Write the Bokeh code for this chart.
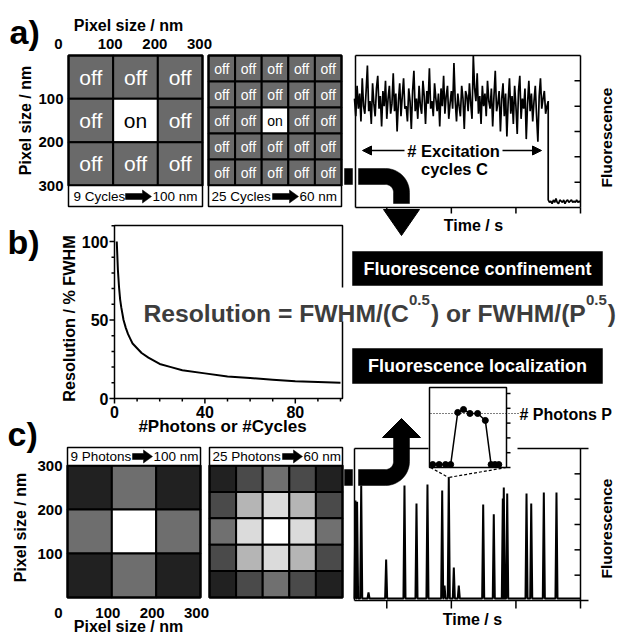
import numpy as np
from bokeh.plotting import figure
from bokeh.models import Range1d, Arrow, NormalHead
from bokeh.core.properties import value
from bokeh.embed import file_html
from bokeh.resources import INLINE

# ---------------- chart values ----------------
pixel_ticks_nm = [0, 100, 200, 300]
pixel_tick_labels = ["0", "100", "200", "300"]

a_small_on = [[0, 0, 0], [0, 1, 0], [0, 0, 0]]
a_large_on = [[0, 0, 0, 0, 0], [0, 0, 0, 0, 0], [0, 0, 1, 0, 0],
              [0, 0, 0, 0, 0], [0, 0, 0, 0, 0]]
a_small_caption = ["9 Cycles", "100 nm"]
a_large_caption = ["25 Cycles", "60 nm"]

c_small_level = [[0.13, 0.43, 0.13], [0.43, 1.0, 0.43], [0.13, 0.43, 0.13]]
c_large_level = [[0.13, 0.29, 0.44, 0.29, 0.13],
                 [0.29, 0.71, 0.86, 0.71, 0.29],
                 [0.44, 0.86, 1.00, 0.86, 0.44],
                 [0.29, 0.71, 0.86, 0.71, 0.29],
                 [0.13, 0.29, 0.44, 0.29, 0.13]]
c_small_caption = ["9 Photons", "100 nm"]
c_large_caption = ["25 Photons", "60 nm"]

res_n = [1, 1.5, 2, 2.5, 3, 4, 5, 6, 7, 8, 10, 12, 15, 20, 25, 30, 40, 50, 60, 70, 80, 90, 100]
res_pct = [100, 82, 71, 63, 58, 50, 45, 41, 38, 35, 32, 29, 26, 22, 20, 18, 16, 14, 13, 12, 11, 10.5, 10]
res_xticks = [0, 40, 80]
res_yticks = [0, 50, 100]

trace_time_ticks = [50, 150, 250, 350]
trace_fluor_ticks = [1, 2, 3, 4, 5]
# panel a: fluorescence sampled every 2 s while the molecule is on (0-300 s)
a_on_signal = [4.3, 3.6, 4.8, 3.9, 4.5, 3.4, 5.1, 4.0, 3.7, 4.6, 5.6, 3.8, 4.2, 3.3, 4.9, 4.1, 3.6, 4.7, 5.2, 3.9,
               4.4, 3.2, 4.6, 4.0, 5.0, 3.5, 4.3, 4.8, 3.7, 4.1, 5.3, 3.8, 4.5, 3.0, 4.2, 4.9, 3.6, 4.4, 5.1, 3.9,
               4.0, 3.4, 4.7, 4.2, 3.1, 4.6, 5.4, 3.8, 4.3, 3.5, 4.8, 4.0, 3.7, 5.0, 4.4, 3.3, 4.6, 4.1, 5.5, 3.9,
               4.2, 3.6, 4.9, 4.3, 3.8, 4.5, 3.2, 4.7, 4.0, 5.2, 3.7, 4.4, 4.8, 3.5, 4.1, 4.6, 3.9, 5.7, 4.2, 3.4,
               4.5, 4.0, 3.6, 4.8, 4.3, 3.1, 4.6, 4.4, 3.8, 4.9, 4.1, 3.5, 6.0, 4.7, 4.2, 5.3, 3.7, 4.4, 3.3, 4.8,
               4.0, 4.5, 3.6, 5.0, 4.2, 3.9, 4.7, 3.2, 4.4, 5.4, 3.8, 4.1, 4.6, 3.0, 4.3, 4.9, 3.6, 4.5, 2.8, 4.2,
               5.1, 3.7, 4.4, 3.3, 4.8, 4.0, 2.9, 4.6, 5.2, 3.5, 4.3, 3.9, 4.7, 2.7, 4.1, 5.0, 3.8, 4.5, 3.4, 4.2,
               4.8, 3.6, 2.6, 4.4, 5.1, 3.9, 4.3, 4.6, 3.7, 4.0, 4.2]
# panel a: after bleaching (300-350 s, every 2 s)
a_off_signal = [0.3, 0.2, 0.25, 0.15, 0.3, 0.2, 0.35, 0.2, 0.15, 0.3, 0.25, 0.2, 0.3,
                0.15, 0.25, 0.3, 0.2, 0.25, 0.3, 0.2, 0.25, 0.2, 0.3, 0.2, 0.25, 0.2]
# panel c: photon bursts
c_burst_time = [1.5, 4, 10.4, 21.7, 49, 77.4, 96, 113, 135.8, 139.4, 146, 153.8, 161.5,
                199.3, 215.7, 229.7, 231.2, 236.5, 266.4, 273.7, 293.2, 312.8]
c_burst_height = [3.95, 3.9, 4.54, 0.32, 1.62, 4.54, 3.83, 4.58, 4.34, 0.59, 4.86, 1.30, 0.59,
                  3.79, 3.40, 4.03, 4.46, 4.22, 4.22, 3.83, 4.26, 4.26]
c_background = 0.08
inset_time = [0.5, 1.5, 2.5, 3.3, 4.4, 5.3, 6.3, 7.5, 8.7, 9.6, 10.2, 10.8]
inset_counts = [0.2, 0.2, 0.2, 0.2, 3.72, 3.92, 3.65, 3.65, 3.18, 0.2, 0.2, 0.2]
inset_photon_level = 3.65
inset_ticks = [0, 1, 2, 3, 4, 5]

# ---------------- canvas ----------------
FONT = "Liberation Sans"
X0, X1, Y0, Y1 = 0, 616, 0, 634          # reference pixels covered by the frame
p = figure(width=X1 - X0, height=Y1 - Y0, x_range=Range1d(X0, X1), y_range=Range1d(-Y1, -Y0),
           output_backend="svg", toolbar_location=None, min_border=0,
           x_axis_type=None, y_axis_type=None,
           background_fill_color="white", border_fill_color="white")
p.outline_line_color = None


def add_x(name, d0, d1, s0, s1):
    k = (d1 - d0) / (s1 - s0)
    p.extra_x_ranges[name] = Range1d(d0 - (s0 - X0) * k, d1 + (X1 - s1) * k)


def add_y(name, d0, d1, s0, s1):
    k = (d1 - d0) / (s0 - s1)
    p.extra_y_ranges[name] = Range1d(d0 + k * (s0 - Y1), d0 + k * (s0 - Y0))


def S(v):
    if isinstance(v, (list, tuple, np.ndarray)):
        return [-u for u in v]
    return -v


def lst(v, n):
    return list(v) if isinstance(v, (list, tuple, np.ndarray)) else [v] * n


def txt(x, y, s, size, bold=True, color="black", align="center", baseline="middle",
        angle=0.0, xr="default", yr="default", x_offset=0):
    n = max(len(v) if isinstance(v, (list, tuple, np.ndarray)) else 1 for v in (x, y, s))
    p.text(x=lst(x, n), y=lst(y, n), text=lst(s, n), text_font=value(FONT),
           text_font_size=value(f"{size}px"), text_font_style="bold" if bold else "normal",
           text_color=color, text_align=align, text_baseline=baseline, angle=angle,
           x_offset=x_offset, x_range_name=xr, y_range_name=yr)


def box(x0, y0, x1, y1, fill="white", line="black", lw=1.5):
    p.quad(left=x0, right=x1, top=-y0, bottom=-y1, fill_color=fill,
           line_color=line, line_width=lw)


def seg(x0, y0, x1, y1, xr="default", yr="default", lw=1.5, dash="solid"):
    n = max(len(v) if isinstance(v, (list, tuple, np.ndarray)) else 1 for v in (x0, y0, x1, y1))
    p.segment(x0=lst(x0, n), y0=lst(y0, n), x1=lst(x1, n), y1=lst(y1, n),
              x_range_name=xr, y_range_name=yr, line_color="black", line_width=lw, line_dash=dash)


def gray(v):
    g = int(round(v * 255))
    return f"#{g:02x}{g:02x}{g:02x}"


def fat_arrow(xa, xb, yc):
    p.patch(x=[xa, xb - 9, xb - 9, xb, xb - 9, xb - 9, xa],
            y=S([yc - 3, yc - 3, yc - 6.5, yc, yc + 6.5, yc + 3, yc + 3]),
            fill_color="black", line_color="black", line_width=0.5)


CW = {' ': 278, '=': 584, '/': 278, '(': 333, ')': 333, '.': 278, 'R': 722, 'e': 556, 's': 556,
      'o': 611, 'l': 278, 'u': 611, 't': 333, 'i': 278, 'n': 611, 'F': 611, 'W': 944, 'H': 722,
      'M': 833, 'C': 722, 'r': 389, 'P': 667, '0': 556, '5': 556}


def tw(s, size):
    return sum(CW.get(ch, 556) for ch in s) * size / 1000.0


def grid(xr, yr, cells, top_origin, on_labels=None, label_size=20):
    n = len(cells)
    cell = 300.0 / n
    xs, ys, cols, labs, lcols = [], [], [], [], []
    for i, row in enumerate(cells):
        for j, v in enumerate(row):
            xs.append((j + 0.5) * cell)
            ys.append((i + 0.5) * cell if top_origin else 300 - (i + 0.5) * cell)
            if on_labels:
                cols.append("white" if v else "#6a6a6a")
                labs.append("on" if v else "off")
                lcols.append("black" if v else "white")
            else:
                cols.append(gray(v))
    p.rect(x=xs, y=ys, width=cell, height=cell, x_range_name=xr, y_range_name=yr,
           fill_color=cols, line_color="black", line_width=2)
    if on_labels:
        p.text(x=xs, y=ys, text=labs, text_color=lcols, text_font=value(FONT),
               text_font_size=value(f"{label_size}px"), text_align="center",
               text_baseline="middle", x_range_name=xr, y_range_name=yr)


# ---------------- panel labels ----------------
txt(9, -31, "a)", 34, align="left")
txt(7, -241, "b)", 34, align="left")
txt(7, -433, "c)", 34, align="left")

# ---------------- panel a: confinement grids ----------------
add_x("ga1", 0, 300, 68, 202)
add_x("ga2", 0, 300, 208, 341)
add_y("gay", 0, 300, 55, 185)
grid("ga1", "gay", a_small_on, True, on_labels=True, label_size=21)
grid("ga2", "gay", a_large_on, True, on_labels=True, label_size=14)
box(68, 55, 202, 185, fill=None, lw=2)
box(208, 55, 341, 185, fill=None, lw=2)
box(68, 185, 202, 206)
box(208, 185, 341, 206)
txt(73, -196, a_small_caption[0], 13.5, bold=False, align="left")
fat_arrow(125, 151, 196)
txt(152, -196, a_small_caption[1], 13.5, bold=False, align="left")
txt(211, -196, a_large_caption[0], 13.5, bold=False, align="left")
fat_arrow(272, 298, 196)
txt(299, -196, a_large_caption[1], 13.5, bold=False, align="left")

txt(128, -25, "Pixel size / nm", 16)
txt(pixel_ticks_nm[1:], -43, pixel_tick_labels[1:], 15, xr="ga1", x_offset=-3)
txt(pixel_ticks_nm[0], -43, pixel_tick_labels[0], 15, xr="ga1", x_offset=-10)
txt(63, pixel_ticks_nm[1:], pixel_tick_labels[1:], 15, align="right", yr="gay")
txt(25, -120, "Pixel size / nm", 16, angle=np.pi / 2)

# ---------------- panel a: fluorescence trace ----------------
add_x("tx", 0, 350, 354, 580)
add_y("tay", 0, 6, 207, 55)
add_y("tcy", 0, 6, 600, 448)
a_t_on = np.arange(0, 301, 2)
a_t_off = np.arange(300, 351, 2)
p.line(list(a_t_on) + list(a_t_off), a_on_signal + a_off_signal, x_range_name="tx",
       y_range_name="tay", line_color="black", line_width=1.7)
seg(355, -55, 580, -55)
seg(355, -207, 580, -207)
seg(355, -55, 355, -207)
seg(580, -55, 580, -207)
seg(574, trace_fluor_ticks, 580, trace_fluor_ticks, yr="tay")
seg(trace_time_ticks, -207, trace_time_ticks, -213, xr="tx")
txt(453, -150, "# Excitation", 16.5)
txt(454, -168, "cycles C", 16.5)
for xs_, xe_ in ((404, 362), (502, 541)):
    p.add_layout(Arrow(end=NormalHead(size=9, fill_color="black", line_color="black"),
                       x_start=xs_, y_start=-150, x_end=xe_, y_end=-150,
                       line_width=1.5, line_color="black"))
txt(473, -225, "Time / s", 16)
txt(606, -137, "Fluorescence", 15.5, angle=np.pi / 2)


# ---------------- bent arrows ----------------
def bent(cy, sgn, yend, tri):
    th = np.linspace(np.pi / 2, 0, 20)
    band_out = cy - sgn * 24
    band_in = cy - sgn * 8
    xs = [358, 385] + list(385 + 24 * np.cos(th)) + [409, 393] + list(385 + 8 * np.cos(th[::-1])) + [358]
    ys = [band_out, band_out] + list(cy - sgn * 24 * np.sin(th)) + [yend, yend] + \
         list(cy - sgn * 8 * np.sin(th[::-1])) + [band_in]
    xs.insert(2 + 20 + 1, 409)
    ys.insert(2 + 20 + 1, yend)
    p.patch(x=xs, y=S(ys), fill_color="black", line_color="black", line_width=0.5)
    p.patch(x=[t[0] for t in tri], y=S([t[1] for t in tri]), fill_color="black", line_color="black")
    box(344, band_out if sgn > 0 else band_in, 352, band_in if sgn > 0 else band_out, fill="black", lw=0.5)


bent(192, 1, 203, [(383, 209), (419, 209), (401, 235)])

# ---------------- middle boxes ----------------
box(352, 251, 602, 285, fill="black", lw=0.5)
txt(477, -268, "Fluorescence confinement", 18, color="white")
box(352, 348, 602, 383, fill="black", lw=0.5)
txt(477, -365.5, "Fluorescence localization", 18, color="white")

# ---------------- panel b ----------------
add_x("bx", 0, 100, 114, 340)
add_y("by", 0, 100, 398, 241)
box(114, 225, 342, 398, fill=None, lw=1.5)
p.line(res_n, res_pct, x_range_name="bx", y_range_name="by", line_color="black", line_width=2)
minor = [v for v in range(10, 111, 10) if v not in res_yticks]
seg(109, res_yticks, 114, res_yticks, yr="by")
seg(111, minor, 114, minor, yr="by")
minor_x = [v for v in range(10, 101, 10) if v not in res_xticks]
seg(res_xticks, -398, res_xticks, -403, xr="bx")
seg(minor_x, -398, minor_x, -401, xr="bx")
txt(108, res_yticks, [str(v) for v in res_yticks], 16, align="right", yr="by")
txt(res_xticks, -411, [str(v) for v in res_xticks], 16, xr="bx")
txt(222, -426, "#Photons or #Cycles", 17)
txt(68, -318, "Resolution / % FWHM", 16.2, angle=np.pi / 2)

# formula with superscripts
box(140, 287, 616, 321, fill="white", line=None, lw=0)
F_MAIN, F_SUP, BASE, SUP_BASE = 24.7, 15, 313, 299
pieces = [("Resolution = FWHM/(C", F_MAIN, BASE), ("0.5", F_SUP, SUP_BASE),
          (") or FWHM/(P", F_MAIN, BASE), ("0.5", F_SUP, SUP_BASE), (")", F_MAIN, BASE)]
xc = 143
for s, fs, b in pieces:
    txt(xc, -b, s, fs, color="#3d3d3d", align="left", baseline="alphabetic")
    xc += tw(s, fs) + (1 if fs == F_SUP else 0)

# ---------------- panel c: localization grids ----------------
add_x("gc1", 0, 300, 67, 200)
add_x("gc2", 0, 300, 209, 342)
add_y("gcy", 0, 300, 597, 465)
grid("gc1", "gcy", c_small_level, False)
grid("gc2", "gcy", c_large_level, False)
box(67, 465, 200, 597, fill=None, lw=2)
box(209, 465, 342, 597, fill=None, lw=2)
box(67, 447, 200, 465)
box(209, 447, 342, 465)
txt(70, -456, c_small_caption[0], 13.5, bold=False, align="left")
fat_arrow(132, 152, 456)
txt(153, -456, c_small_caption[1], 13.5, bold=False, align="left")
txt(212, -456, c_large_caption[0], 13.5, bold=False, align="left")
fat_arrow(282, 302, 456)
txt(303, -456, c_large_caption[1], 13.5, bold=False, align="left")
txt(62, pixel_ticks_nm[1:], pixel_tick_labels[1:], 15, align="right", yr="gcy")
txt(pixel_ticks_nm[1:], -612, pixel_tick_labels[1:], 15, xr="gc1", x_offset=-4)
txt(pixel_ticks_nm[0], -612, pixel_tick_labels[0], 15, xr="gc1", x_offset=-9)
txt(128, -626, "Pixel size / nm", 16)
txt(20, -527, "Pixel size / nm", 16, angle=np.pi / 2)

# ---------------- panel c: burst trace ----------------
path_t, path_v = [0.0], [c_background]
for t, h in zip(c_burst_time, c_burst_height):
    path_t += [t - 1.6, t, t + 1.6]
    path_v += [c_background, h, c_background]
path_t.append(350.0)
path_v.append(c_background)
p.line(path_t, path_v, x_range_name="tx", y_range_name="tcy", line_color="black", line_width=2.0)
seg(354, -448, 354, -600)
seg([354, 517], -448, [428, 588], -448)
seg(354, -600, 588, -600)
seg(580, -448, 580, -600)
seg(574, trace_fluor_ticks, 580, trace_fluor_ticks, yr="tcy")
seg(trace_time_ticks, -600, trace_time_ticks, -608, xr="tx")
txt(472, -619, "Time / s", 16)
txt(606, -528, "Fluorescence", 15.5, angle=np.pi / 2)

bent(461, -1, 436, [(382, 437), (420, 437), (401, 418)])

# ---------------- inset ----------------
add_x("ix", 0, 12, 429, 506)
add_y("iy", 0, 5, 467, 393)
box(429, 387, 506, 467, fill="white", lw=1.5)
seg(506, inset_ticks, 510, inset_ticks, yr="iy")
seg(430, inset_photon_level, 518, inset_photon_level, yr="iy", lw=1.2, dash="1 2")
p.line(inset_time, inset_counts, x_range_name="ix", y_range_name="iy", line_color="black", line_width=1.5)
p.scatter(inset_time, inset_counts, x_range_name="ix", y_range_name="iy", size=6,
          fill_color="black", line_color="black")
seg([430, 506], -467, [448, 448], -477, lw=1.2, dash="3 2")
txt(519, -414, "# Photons P", 16, align="left")

open("out.html", "w").write(file_html(p, INLINE))
